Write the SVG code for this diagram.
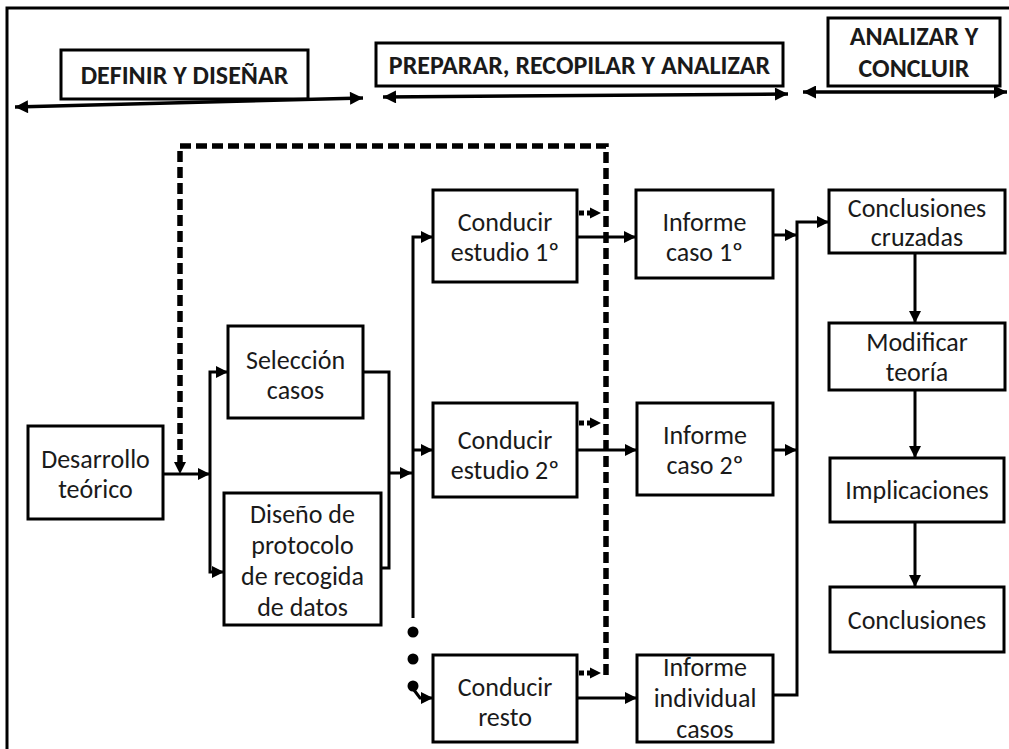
<svg xmlns="http://www.w3.org/2000/svg" width="1009" height="749" viewBox="0 0 1009 749">
  <style>
    .box { fill: #fff; stroke: #000; stroke-width: 3; }
    .hbox { fill: #fff; stroke: #000; stroke-width: 3; }
    .t { font-family: Carlito, Lato, "Liberation Sans", sans-serif; font-size: 26px; fill: #1a1a1a; text-anchor: middle; }
    .h { font-family: Carlito, Lato, "Liberation Sans", sans-serif; font-size: 26px; font-weight: bold; fill: #1a1a1a; text-anchor: middle; }
    .ln { fill: none; stroke: #000; stroke-width: 3; }
    .span { fill: none; stroke: #000; stroke-width: 3.5; }
    .dash { fill: none; stroke: #000; stroke-width: 5.5; stroke-dasharray: 11 5; }
    .sdash { fill: none; stroke: #000; stroke-width: 5; stroke-dasharray: 5 3; }
    .frame { fill: none; stroke: #000; stroke-width: 3; }
  </style>
  <defs>
    <marker id="ah" viewBox="0 0 10 10" refX="10" refY="5" markerWidth="12" markerHeight="12" markerUnits="userSpaceOnUse" orient="auto-start-reverse">
      <path d="M0,0 L10,5 L0,10 z" fill="#000"/>
    </marker>
    <marker id="ahb" viewBox="0 0 10 10" refX="10" refY="5" markerWidth="15" markerHeight="13" markerUnits="userSpaceOnUse" orient="auto-start-reverse">
      <path d="M0,0 L10,5 L0,10 z" fill="#000"/>
    </marker>
    <path id="tri" d="M0,-5.5 L11,0 L0,5.5 z" fill="#000"/>
  </defs>

  <rect width="1009" height="749" fill="#fff"/>

  <!-- outer frame: top and left edges -->
  <path class="frame" d="M7,749 V8 H1009"/>

  <!-- phase headers -->
  <g id="phase-definir">
    <rect class="hbox" x="61" y="50" width="247" height="49"/>
    <text class="h" x="184.5" y="84">DEFINIR Y DISEÑAR</text>
  </g>
  <g id="phase-preparar">
    <rect class="hbox" x="376" y="43" width="407" height="43"/>
    <text class="h" x="579.5" y="74">PREPARAR, RECOPILAR Y ANALIZAR</text>
  </g>
  <g id="phase-concluir">
    <rect class="hbox" x="828" y="18" width="172" height="68"/>
    <text class="h" x="914" y="45">ANALIZAR Y</text>
    <text class="h" x="914" y="77">CONCLUIR</text>
  </g>

  <!-- nodes -->
  <g id="desarrollo">
    <rect class="box" x="28" y="426" width="135" height="93"/>
    <text class="t" x="95.5" y="468">Desarrollo</text>
    <text class="t" x="95.5" y="498">teórico</text>
  </g>
  <g id="seleccion">
    <rect class="box" x="228" y="326" width="135" height="92"/>
    <text class="t" x="295.5" y="369">Selección</text>
    <text class="t" x="295.5" y="399">casos</text>
  </g>
  <g id="diseno">
    <rect class="box" x="224" y="493" width="157" height="132"/>
    <text class="t" x="302.5" y="523">Diseño de</text>
    <text class="t" x="302.5" y="554">protocolo</text>
    <text class="t" x="302.5" y="585">de recogida</text>
    <text class="t" x="302.5" y="616">de datos</text>
  </g>
  <g id="conducir-1">
    <rect class="box" x="433" y="190" width="144" height="92"/>
    <text class="t" x="505" y="231">Conducir</text>
    <text class="t" x="505" y="261">estudio 1º</text>
  </g>
  <g id="conducir-2">
    <rect class="box" x="433" y="403" width="144" height="94"/>
    <text class="t" x="505" y="449">Conducir</text>
    <text class="t" x="505" y="479">estudio 2º</text>
  </g>
  <g id="conducir-resto">
    <rect class="box" x="433" y="655" width="144" height="87"/>
    <text class="t" x="505" y="696">Conducir</text>
    <text class="t" x="505" y="726">resto</text>
  </g>
  <g id="informe-1">
    <rect class="box" x="636" y="190" width="137" height="88"/>
    <text class="t" x="704.5" y="231">Informe</text>
    <text class="t" x="704.5" y="261">caso 1º</text>
  </g>
  <g id="informe-2">
    <rect class="box" x="637" y="403" width="136" height="92"/>
    <text class="t" x="705" y="444">Informe</text>
    <text class="t" x="705" y="474">caso 2º</text>
  </g>
  <g id="informe-individual">
    <rect class="box" x="637" y="655" width="136" height="87"/>
    <text class="t" x="705" y="676">Informe</text>
    <text class="t" x="705" y="707">individual</text>
    <text class="t" x="705" y="738">casos</text>
  </g>
  <g id="conclusiones-cruzadas">
    <rect class="box" x="829" y="190" width="176" height="63"/>
    <text class="t" x="917" y="217">Conclusiones</text>
    <text class="t" x="917" y="246">cruzadas</text>
  </g>
  <g id="modificar-teoria">
    <rect class="box" x="829" y="323" width="176" height="67"/>
    <text class="t" x="917" y="351">Modificar</text>
    <text class="t" x="917" y="381">teoría</text>
  </g>
  <g id="implicaciones">
    <rect class="box" x="830" y="458" width="174" height="64"/>
    <text class="t" x="917" y="499">Implicaciones</text>
  </g>
  <g id="conclusiones">
    <rect class="box" x="830" y="587" width="174" height="65"/>
    <text class="t" x="917" y="629">Conclusiones</text>
  </g>

  <!-- connectors -->
  <g id="connectors">
    <!-- phase spans -->
    <path class="span" d="M15,107 L363,98" marker-start="url(#ahb)" marker-end="url(#ahb)"/>
    <path class="span" d="M383,97 L788,94" marker-start="url(#ahb)" marker-end="url(#ahb)"/>
    <path class="span" d="M803,92 L1007,92" marker-start="url(#ahb)" marker-end="url(#ahb)"/>

    <!-- feedback loop -->
    <path class="dash" d="M606,675 V146 H180 V462"/>
    <path d="M174,462 L186,462 L180,474 z" fill="#000"/>

    <!-- theory into case selection and protocol design -->
    <path class="ln" d="M163,474 H210" marker-end="url(#ah)"/>
    <path class="ln" d="M228,372 H210 V572 H224" marker-start="url(#ah)" marker-end="url(#ah)"/>

    <!-- merge into study bus -->
    <path class="ln" d="M363,372 H389 V568 H381"/>
    <path class="ln" d="M389,473 H412" marker-end="url(#ah)"/>

    <!-- study bus -->
    <path class="ln" d="M433,237 H413 V618" marker-start="url(#ah)"/>
    <path class="ln" d="M413,450 H433" marker-end="url(#ah)"/>
    <circle cx="413" cy="632" r="5.5" fill="#000"/>
    <circle cx="413" cy="659" r="5.5" fill="#000"/>
    <circle cx="413" cy="686" r="5.5" fill="#000"/>
    <path class="ln" d="M414,690 L420,698 H433" marker-end="url(#ah)"/>

    <!-- studies to the loop -->
    <path class="sdash" d="M579,213 H590"/>
    <use href="#tri" x="590" y="213"/>
    <path class="sdash" d="M579,423 H590"/>
    <use href="#tri" x="590" y="423"/>
    <path class="sdash" d="M579,673 H590"/>
    <use href="#tri" x="590" y="673"/>

    <!-- studies to reports -->
    <path class="ln" d="M577,237 H636" marker-end="url(#ah)"/>
    <path class="ln" d="M577,450 H637" marker-end="url(#ah)"/>
    <path class="ln" d="M577,698 H637" marker-end="url(#ah)"/>

    <!-- reports to cross conclusions -->
    <path class="ln" d="M773,235 H797" marker-end="url(#ah)"/>
    <path class="ln" d="M773,450 H797" marker-end="url(#ah)"/>
    <path class="ln" d="M773,695 H797 V222 H829" marker-end="url(#ah)"/>

    <!-- conclusion chain -->
    <path class="ln" d="M915,253 V323" marker-end="url(#ah)"/>
    <path class="ln" d="M915,390 V458" marker-end="url(#ah)"/>
    <path class="ln" d="M915,522 V587" marker-end="url(#ah)"/>
  </g>
</svg>
